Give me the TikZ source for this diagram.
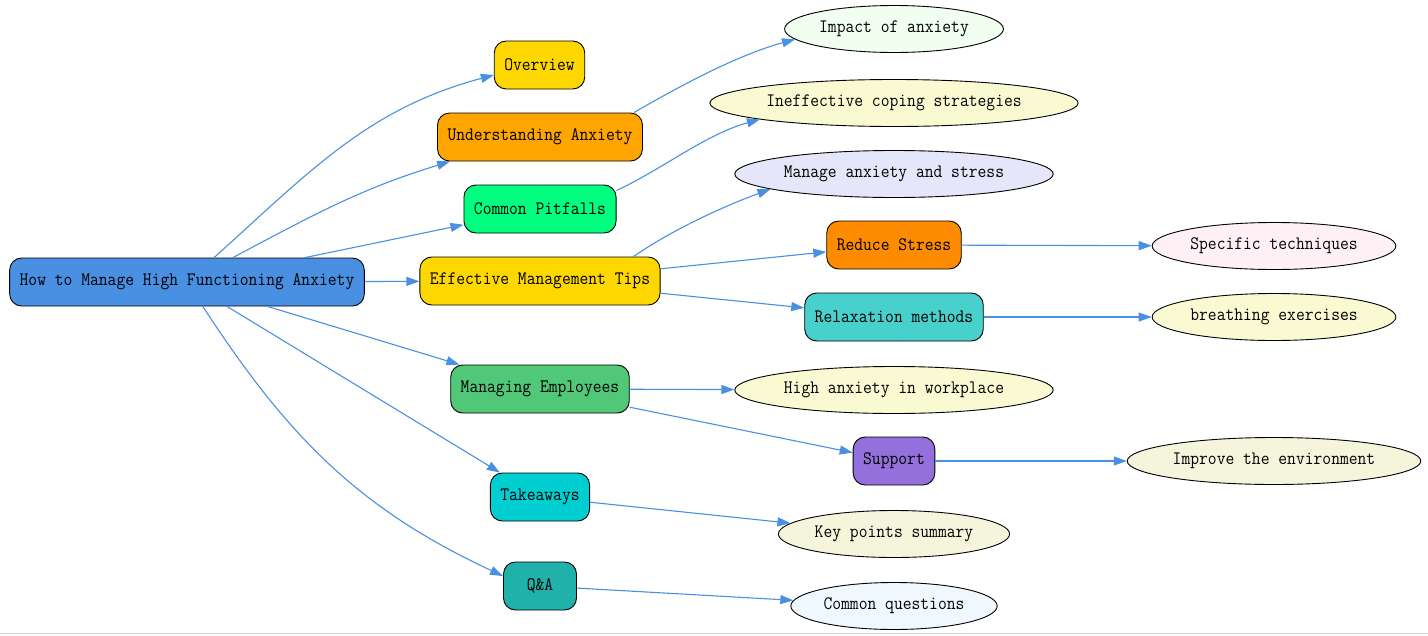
\documentclass[tikz,border=0pt]{standalone}
\usepackage{fontspec}
\setmonofont{Latin Modern Mono}[FakeStretch=0.9]
\usepackage{tikz}
\usetikzlibrary{positioning}
\usetikzlibrary{shapes.geometric}
\usetikzlibrary{arrows.meta}
\usepackage{xcolor}

\definecolor{edgeblue}{HTML}{4A90E2}
\definecolor{rootblue}{HTML}{4A90E2}
\definecolor{goldc}{HTML}{FFD700}
\definecolor{orangec}{HTML}{FFA500}
\definecolor{springc}{HTML}{00FF7F}
\definecolor{emeraldc}{HTML}{50C878}
\definecolor{dturqc}{HTML}{00CED1}
\definecolor{seagreenc}{HTML}{20B2AA}
\definecolor{dorangec}{HTML}{FF8C00}
\definecolor{mturqc}{HTML}{48D1CC}
\definecolor{mpurplec}{HTML}{9370DB}
\definecolor{honeydewc}{HTML}{F0FFF0}
\definecolor{lgoldc}{HTML}{FAFAD2}
\definecolor{lavenderc}{HTML}{E6E6FA}
\definecolor{lblushc}{HTML}{FFF0F5}
\definecolor{beigec}{HTML}{F5F5DC}
\definecolor{alicec}{HTML}{F0F8FF}

\begin{document}
\begin{tikzpicture}[x=1pt, y=1pt,
        every node/.style={font=\ttfamily\fontsize{19}{22}\selectfont, text=black},
        box/.style={rectangle, rounded corners=12pt, draw, line width=0.9pt, minimum height=48pt, inner xsep=10pt},
        oval/.style={ellipse, draw, line width=0.9pt, minimum height=47pt, inner xsep=2.5pt, inner ysep=2pt},
        e/.style={draw=edgeblue, line width=1.1pt, -{Triangle[length=13pt, width=9pt]}}]
            \useasboundingbox (0, 0) rectangle (1428, -635);

            \node[box, fill=rootblue] (root) at (187, -282) {How to Manage High Functioning Anxiety};

            \node[box, fill=goldc] (ov) at (539.5, -65) {Overview};
            \node[box, fill=orangec] (ua) at (540, -137) {Understanding Anxiety};
            \node[box, fill=springc] (cp) at (540, -209) {Common Pitfalls};
            \node[box, fill=goldc] (emt) at (540, -281) {Effective Management Tips};
            \node[box, fill=emeraldc] (me) at (540, -389) {Managing Employees};
            \node[box, fill=dturqc] (tk) at (540, -497) {Takeaways};
            \node[box, fill=seagreenc, minimum width=73pt] (qa) at (540, -586) {Q\&A};

            \node[box, fill=dorangec] (rs) at (894, -245) {Reduce Stress};
            \node[box, fill=mturqc] (rm) at (894, -317) {Relaxation methods};
            \node[box, fill=mpurplec] (sup) at (894, -461) {Support};

            \node[oval, fill=honeydewc] (imp) at (894, -29) {Impact of anxiety};
            \node[oval, fill=lgoldc] (ineff) at (894, -103) {Ineffective coping strategies};
            \node[oval, fill=lavenderc] (mas) at (894, -174) {Manage anxiety and stress};
            \node[oval, fill=lgoldc] (haw) at (894, -390) {High anxiety in workplace};
            \node[oval, fill=beigec] (kps) at (894, -534) {Key points summary};
            \node[oval, fill=alicec] (cq) at (894, -606) {Common questions};
            \node[oval, fill=lblushc] (st) at (1274, -246) {Specific techniques};
            \node[oval, fill=lgoldc] (be) at (1274, -317) {breathing exercises};
            \node[oval, fill=beigec] (ite) at (1274, -461) {Improve the environment};

            \draw[e] (root) to[out=42, in=195] ([yshift=-10pt]ov.west);
            \draw[e] (root) to[out=28, in=197] ([xshift=13pt]ua.south west);
            \draw[e] (root) -- (cp);
            \draw[e] (root) -- (emt);
            \draw[e] (root) -- (me);
            \draw[e] (root) -- (tk);
            \draw[e] (root) to[out=-57, in=155] ([yshift=10pt]qa.west);

            \draw[e] ([xshift=-9pt]ua.north east) .. controls +(30:50) and +(195:60) .. (imp.186);
            \draw[e] ([yshift=-6pt]cp.north east) .. controls +(25:50) and +(195:55) .. (ineff.187);
            \draw[e] ([xshift=-27pt]emt.north east) .. controls +(35:45) and +(200:50) .. (mas.187);
            \draw[e] (emt) -- (rs);
            \draw[e] (emt) -- (rm);
            \draw[e] (me) -- (haw);
            \draw[e] (me) -- (sup);
            \draw[e] (tk) -- (kps);
            \draw[e] (qa) -- (cq);

            \draw[e] (rs) -- (st);
            \draw[e] (rm) -- (be);
            \draw[e] (sup) -- (ite);

            \draw[gray!35, line width=1.5pt] (0, -633.5) -- (1428, -633.5);
        \end{tikzpicture}
\end{document}
